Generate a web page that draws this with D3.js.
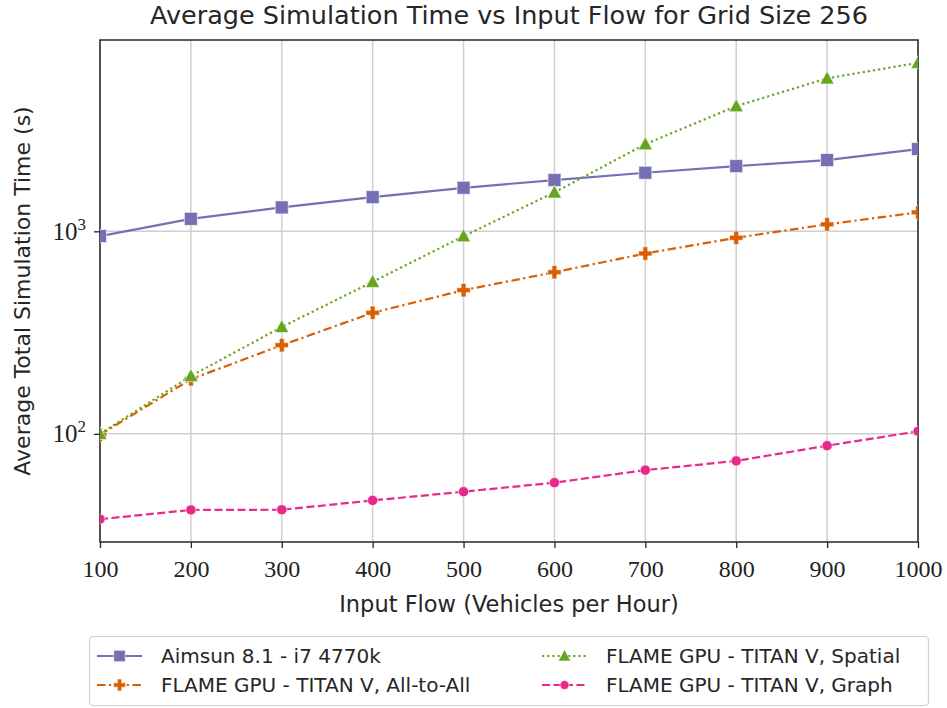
<!DOCTYPE html>
<html>
<head>
<meta charset="utf-8">
<script src="https://cdn.jsdelivr.net/npm/d3@7"></script>
<style>
  body { margin: 0; background: #fff; }
  svg { display: block; }
  .sans { font-family: "DejaVu Sans", "Open Sans", sans-serif; fill: #262626; }
  .serif { font-family: "Liberation Serif", "DejaVu Serif", serif; fill: #222; }
</style>
</head>
<body>
<div id="graph"></div>
<script>
// data
const flows = [100, 200, 300, 400, 500, 600, 700, 800, 900, 1000];
const aimsun = [947, 1152, 1312, 1475, 1640, 1791, 1946, 2099, 2248, 2548];
const allToAll = [99, 186, 274, 396, 512, 628, 777, 929, 1082, 1240];
const spatial = [100, 193, 337, 563, 946, 1556, 2692, 4150, 5690, 6790];
const graphSeries = [37.9, 42.1, 42.2, 46.9, 51.8, 57.4, 66.2, 73.5, 87.4, 102.9];
const xTicks = [100, 200, 300, 400, 500, 600, 700, 800, 900, 1000];
const yTicks = [100, 1000];
const seriesNames = [
  "Aimsun 8.1 - i7 4770k",
  "FLAME GPU - TITAN V, All-to-All",
  "FLAME GPU - TITAN V, Spatial",
  "FLAME GPU - TITAN V, Graph"
];

const width = 947;
const height = 708;
const margin = { left: 100, right: 29, top: 40, bottom: 166 };

const purple = "#7570b3";
const orange = "#d95f02";
const green = "#66a61e";
const pink = "#e7298a";
const gridColor = "#cfcfcf";
const axisColor = "#262626";

const series = [
  { name: seriesNames[0], values: aimsun, color: purple, dash: null, marker: "square", size: 13 },
  { name: seriesNames[1], values: allToAll, color: orange, dash: "8.5,3.5,2.2,3.5", marker: "plus", size: 13.5 },
  { name: seriesNames[2], values: spatial, color: green, dash: "2.2,3", marker: "triangle", size: 14 },
  { name: seriesNames[3], values: graphSeries, color: pink, dash: "8,3.5", marker: "circle", size: 12 }
];

let svg = d3.select('#graph')
  .append('svg')
  .attr('width', width)
  .attr('height', height);

let allValues = [].concat(aimsun, allToAll, spatial, graphSeries);
let lo = Math.log10(d3.min(allValues));
let hi = Math.log10(d3.max(allValues));
let pad = (hi - lo) * 0.05;

let xScale = d3.scaleLinear()
  .domain([100, 1000])
  .range([margin.left, width - margin.right]);

let yScale = d3.scaleLog()
  .domain([Math.pow(10, lo - pad), Math.pow(10, hi + pad)])
  .range([height - margin.bottom, margin.top]);

// grid
let grid = svg.append('g').attr('class', 'grid');
grid.selectAll('.vgrid').data(xTicks).enter()
  .append('line')
  .attr('x1', d => xScale(d)).attr('x2', d => xScale(d))
  .attr('y1', margin.top).attr('y2', height - margin.bottom)
  .attr('stroke', gridColor).attr('stroke-width', 1.5);
grid.selectAll('.hgrid').data(yTicks).enter()
  .append('line')
  .attr('x1', margin.left).attr('x2', width - margin.right)
  .attr('y1', d => yScale(d)).attr('y2', d => yScale(d))
  .attr('stroke', gridColor).attr('stroke-width', 1.5);

// axes
let xAxis = d3.axisBottom(xScale)
  .tickValues(xTicks)
  .tickSize(6)
  .tickPadding(6)
  .tickFormat(d3.format('d'));

let gx = svg.append('g')
  .attr('transform', `translate(0, ${height - margin.bottom})`)
  .call(xAxis);
gx.select('.domain').remove();
gx.selectAll('line').attr('stroke', axisColor).attr('stroke-width', 1.3);
gx.selectAll('text')
  .attr('class', 'serif')
  .attr('font-family', null)
  .style('font-size', '24px')
  .attr('dy', '0.95em');

let yAxis = d3.axisLeft(yScale)
  .tickValues(yTicks)
  .tickSize(6)
  .tickFormat('');

let gy = svg.append('g')
  .attr('transform', `translate(${margin.left}, 0)`)
  .call(yAxis);
gy.select('.domain').remove();
gy.selectAll('line').attr('stroke', axisColor).attr('stroke-width', 1.3);
gy.selectAll('.tick').append('text')
  .attr('class', 'serif')
  .attr('x', -14)
  .attr('y', 8)
  .attr('text-anchor', 'end')
  .style('font-size', '25px')
  .each(function(d) {
    let t = d3.select(this);
    t.append('tspan').text('10');
    t.append('tspan')
      .attr('dy', -10)
      .style('font-size', '17px')
      .text(Math.round(Math.log10(d)));
  });

// frame
svg.append('rect')
  .attr('x', margin.left)
  .attr('y', margin.top)
  .attr('width', width - margin.left - margin.right)
  .attr('height', height - margin.top - margin.bottom)
  .attr('fill', 'none')
  .attr('stroke', axisColor)
  .attr('stroke-width', 1.5);

// titles
let midX = (margin.left + width - margin.right) / 2;
svg.append('text')
  .attr('class', 'sans')
  .attr('x', midX)
  .attr('y', 24)
  .attr('text-anchor', 'middle')
  .style('font-size', '25.5px')
  .text('Average Simulation Time vs Input Flow for Grid Size 256');

svg.append('text')
  .attr('class', 'sans')
  .attr('x', midX)
  .attr('y', 612)
  .attr('text-anchor', 'middle')
  .style('font-size', '22.5px')
  .text('Input Flow (Vehicles per Hour)');

svg.append('text')
  .attr('class', 'sans')
  .attr('transform', `translate(30, ${(margin.top + height - margin.bottom) / 2}) rotate(-90)`)
  .attr('text-anchor', 'middle')
  .style('font-size', '22px')
  .text('Average Total Simulation Time (s)');

// markers
function drawMarker(sel, type, color, size) {
  let s = size / 2;
  if (type === 'square') {
    sel.append('rect')
      .attr('x', -s).attr('y', -s).attr('width', size).attr('height', size)
      .attr('fill', color);
  } else if (type === 'circle') {
    sel.append('circle').attr('r', s * 0.85).attr('fill', color);
  } else if (type === 'triangle') {
    sel.append('path')
      .attr('d', `M0,${-s * 1.05}L${s},${s * 0.8}L${-s},${s * 0.8}Z`)
      .attr('fill', color);
  } else if (type === 'plus') {
    let a = s, b = s * 0.36;
    sel.append('path')
      .attr('d', `M${-b},${-a}H${b}V${-b}H${a}V${b}H${b}V${a}H${-b}V${b}H${-a}V${-b}H${-b}Z`)
      .attr('fill', color);
  }
  sel.selectAll('*')
    .attr('stroke', '#fff')
    .attr('stroke-opacity', 0.6)
    .attr('stroke-width', 1);
}

svg.append('clipPath').attr('id', 'plot-clip')
  .append('rect')
  .attr('x', margin.left).attr('y', margin.top)
  .attr('width', width - margin.left - margin.right)
  .attr('height', height - margin.top - margin.bottom);

let lines = svg.append('g').attr('class', 'lines').attr('clip-path', 'url(#plot-clip)');
let line = d3.line()
  .x((d, i) => xScale(flows[i]))
  .y(d => yScale(d));

series.forEach(s => {
  let g = lines.append('g');
  g.append('path')
    .datum(s.values)
    .attr('fill', 'none')
    .attr('stroke', s.color)
    .attr('stroke-width', 2.2)
    .attr('stroke-dasharray', s.dash)
    .attr('d', line);
  g.selectAll('.pt').data(s.values).enter()
    .append('g')
    .attr('transform', (d, i) => `translate(${xScale(flows[i])}, ${yScale(d)})`)
    .each(function() { drawMarker(d3.select(this), s.marker, s.color, s.size); });
});

// legend
let legend = svg.append('g').attr('class', 'legend');
legend.append('rect')
  .attr('x', 89.5).attr('y', 636.5)
  .attr('width', 839).attr('height', 69)
  .attr('rx', 4)
  .attr('fill', '#fff')
  .attr('stroke', '#d0d0d0')
  .attr('stroke-width', 1.2);

let legendPos = [[97, 656], [97, 685], [542, 656], [542, 685]];
series.forEach((s, i) => {
  let [lx, ly] = legendPos[i];
  let item = legend.append('g').attr('transform', `translate(${lx}, ${ly})`);
  item.append('line')
    .attr('x1', 0).attr('x2', 45)
    .attr('stroke', s.color)
    .attr('stroke-width', 2.2)
    .attr('stroke-dasharray', s.dash);
  let m = item.append('g').attr('transform', 'translate(22.5, 0)');
  drawMarker(m, s.marker, s.color, s.size - 1.5);
  item.append('text')
    .attr('class', 'sans')
    .attr('x', 64)
    .attr('y', 7)
    .style('font-size', '20px')
    .text(s.name);
});
</script>
</body>
</html>
